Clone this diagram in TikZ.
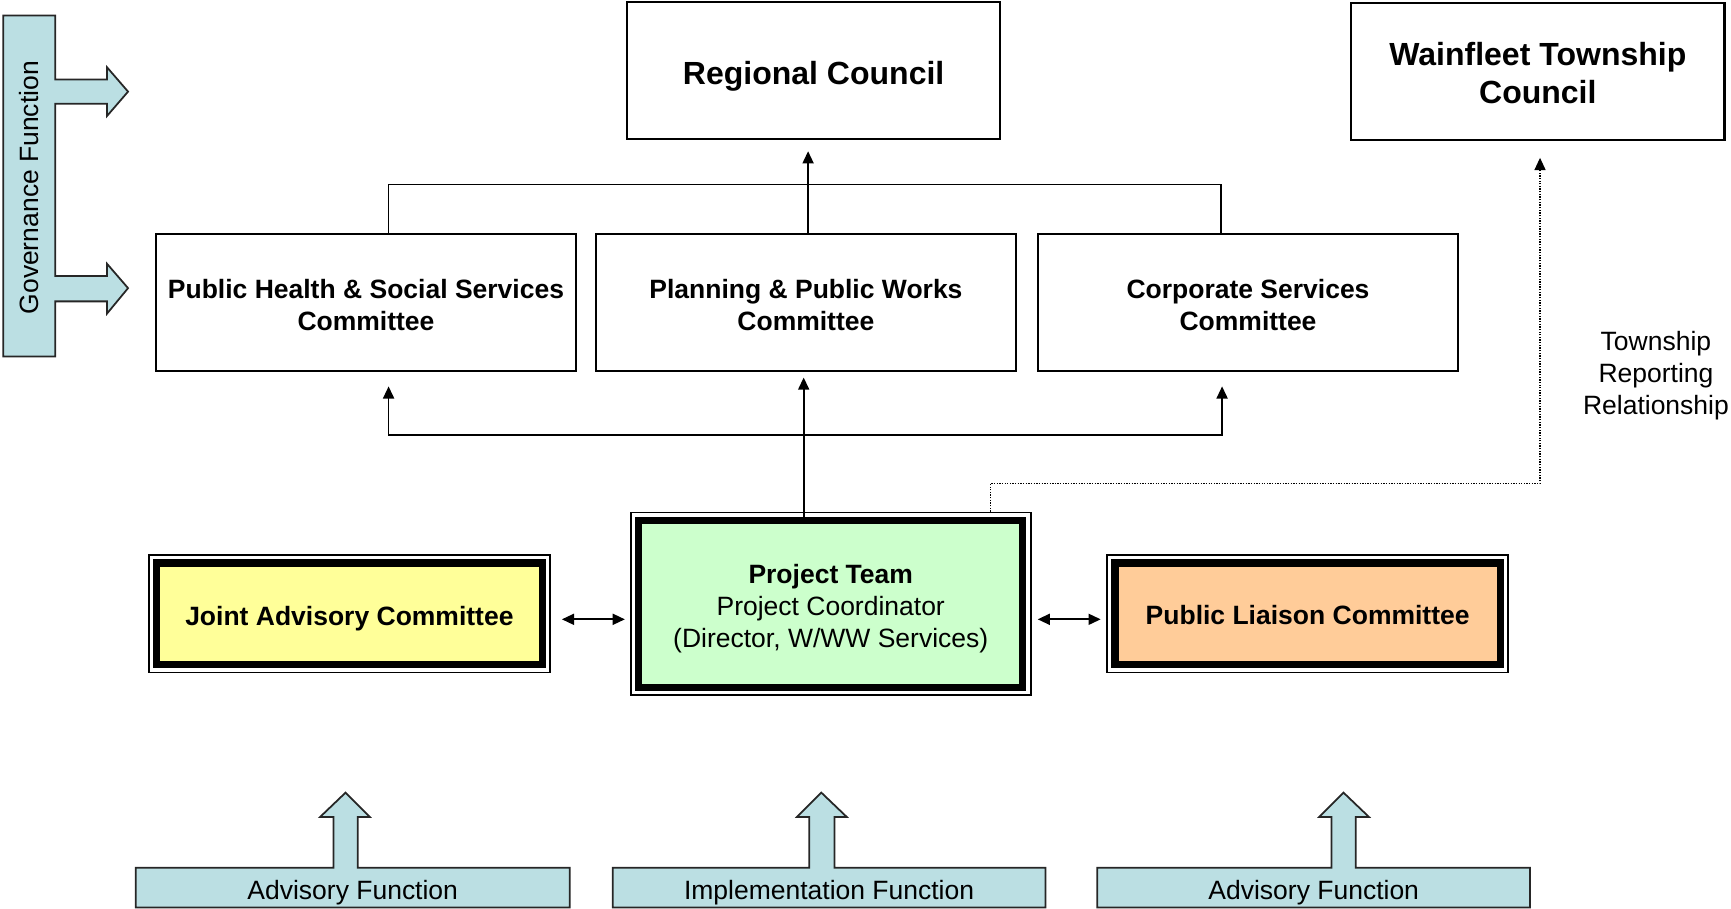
\documentclass[tikz,border=0pt]{standalone}
\usepackage{fontspec}
\setmainfont{Liberation Sans}
\usetikzlibrary{arrows.meta}
\definecolor{govblue}{HTML}{BBDFE3}
\definecolor{jacyellow}{HTML}{FFFF99}
\definecolor{ptgreen}{HTML}{CCFFCC}
\definecolor{plcpeach}{HTML}{FFCC99}
\begin{document}
\begin{tikzpicture}[x=0.5pt,y=-0.5pt,
  every node/.style={outer sep=0pt, inner sep=0pt},
  box/.style={draw, line width=1pt},
  boxtext/.style={align=center, font=\bfseries\fontsize{12}{14.5}\selectfont},
  bigtext/.style={align=center, font=\bfseries\fontsize{14.5}{17}\selectfont},
  dtext/.style={align=center, font=\fontsize{12}{14.5}\selectfont},
  dbox/.style={draw, line width=3.2pt},
  thinframe/.style={draw, line width=0.8pt},
  conn/.style={line width=0.75pt},
  arr/.style={conn, -{Triangle[length=5.5pt,width=5pt]}},
  dblarr/.style={conn, {Triangle[length=5.5pt,width=5pt]}-{Triangle[length=5.5pt,width=5pt]}},
  dotarr/.style={line width=0.5pt, dash pattern=on 0.6pt off 0.6pt, -{Triangle[length=5.5pt,width=5pt]}},
  fnshape/.style={draw=black!85, fill=govblue, line width=0.8pt},
  fntext/.style={font=\fontsize{12}{14.5}\selectfont}
]
\useasboundingbox (0,0) rectangle (1568,823);

% Governance function shape
\draw[fnshape] (3,14) -- (50,14) -- (50,72) -- (97,72) -- (97,61) -- (116,83) -- (97,105) -- (97,94)
  -- (50,94) -- (50,250) -- (97,250) -- (97,239) -- (116,261) -- (97,284) -- (97,273) -- (50,273)
  -- (50,323) -- (3,323) -- cycle;
\node[rotate=90, fntext] (govtext) at (26,170) {Governance Function};

% top boxes
\node[box, minimum width=169pt, minimum height=62pt,
  label={[bigtext, yshift=-2.5pt]center:Regional Council}] (rc) at (737,64) {};
\node[box, minimum width=169pt, minimum height=62pt,
  label={[bigtext, yshift=-0.5pt]center:{Wainfleet Township\\Council}}] (wt) at (1393,65) {};

% committees
\node[box, minimum width=190.5pt, minimum height=62pt,
  label={[boxtext, yshift=-1pt]center:{Public Health \& Social Services\\Committee}}] (ph) at (331.5,274) {};
\node[box, minimum width=190pt, minimum height=62pt,
  label={[boxtext, yshift=-1pt]center:{Planning \& Public Works\\Committee}}] (pp) at (730,274) {};
\node[box, minimum width=190.5pt, minimum height=62pt,
  label={[boxtext, yshift=-1pt]center:{Corporate Services\\Committee}}] (cs) at (1130.5,274) {};

% double-bordered boxes
\node[dbox, fill=jacyellow, minimum width=174.5pt, minimum height=46pt,
  label={[dtext, yshift=-2pt]center:\bfseries Joint Advisory Committee}] (jac) at (316.5,556) {};
\node[dbox, fill=ptgreen, minimum width=174pt, minimum height=75.5pt,
  label={[dtext, yshift=-2pt]center:{\textbf{Project Team}\\Project Coordinator\\(Director, W/WW Services)}}] (pt) at (752.5,547) {};
\node[dbox, fill=plcpeach, minimum width=174.5pt, minimum height=46pt,
  label={[dtext, yshift=-0.5pt]center:\bfseries Public Liaison Committee}] (plc) at (1184.5,556) {};
\foreach \n in {jac,pt,plc}{
  \draw[thinframe] ([shift={(-3.6pt,-3.6pt)}]\n.south west) rectangle ([shift={(3.6pt,3.6pt)}]\n.north east);
}

% Township label
\node[align=center, fntext] (trr) at (1500,340) {Township\\Reporting\\Relationship};

% connectors: committees to regional council
\coordinate (jt) at (732,167);
\draw[conn] ([xshift=10.25pt]ph.north) |- (jt) -| ([xshift=-12.25pt]cs.north);
\draw[arr, shorten >=5.5pt] ([xshift=1pt]pp.north) -- ([xshift=1pt]pp.north |- rc.south);

% connectors: project team to committees
\coordinate (jb) at (728,394);
\draw[arr, shorten >=3pt] ([xshift=-12.25pt]pt.north) -- ([xshift=-12.25pt]pt.north |- pp.south);
\draw[arr, shorten >=7pt] (jb) -| ([xshift=10.25pt]ph.south);
\draw[arr, shorten >=7pt] (jb) -| ([xshift=-11.75pt]cs.south);

% dotted reporting relationship
\coordinate (dk) at (897,438);
\coordinate (dj) at (1395,438);
\draw[dotarr] ([xshift=72.25pt,yshift=4pt]pt.north) -- (dk) -- (dj) -- ([xshift=1pt,yshift=-8pt]wt.south);

% horizontal double arrows
\draw[dblarr, shorten <=9pt, shorten >=6.25pt] ([yshift=-2.5pt]jac.east) -- ([yshift=-2.5pt]jac.east -| pt.west);
\draw[dblarr, shorten <=6.75pt, shorten >=6.5pt] ([yshift=-7pt]pt.east) -- ([yshift=-7pt]pt.east -| plc.west);

% function shapes at bottom
\draw[fnshape] (123,786) -- (302,786) -- (302,740) -- (290,740) -- (313,718) -- (335,740) -- (324,740)
  -- (324,786) -- (516,786) -- (516,822) -- (123,822) -- cycle;
\node[fntext] (af1) at (319.5,809) {Advisory Function};
\draw[fnshape] (555,786) -- (733,786) -- (733,740) -- (722,740) -- (744,718) -- (767,740) -- (756,740)
  -- (756,786) -- (947,786) -- (947,822) -- (555,822) -- cycle;
\node[fntext] (imf) at (751,809) {Implementation Function};
\draw[fnshape] (994,786) -- (1206,786) -- (1206,740) -- (1195,740) -- (1217,718) -- (1240,740) -- (1228,740)
  -- (1228,786) -- (1386,786) -- (1386,822) -- (994,822) -- cycle;
\node[fntext] (af2) at (1190,809) {Advisory Function};
\end{tikzpicture}
\end{document}
